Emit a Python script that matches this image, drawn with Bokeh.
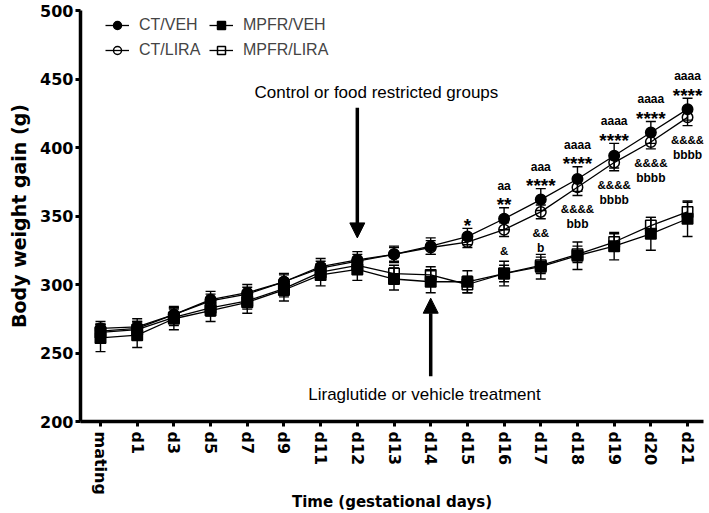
from bokeh.plotting import figure
from bokeh.models import (Range1d, FixedTicker, Whisker, TeeHead, Arrow, NormalHead,
                          Label, Legend, LegendItem, ColumnDataSource)
from bokeh.core.properties import value
from bokeh.embed import file_html
from bokeh.resources import INLINE

# ---------------- data ----------------
categories = ["mating", "d1", "d3", "d5", "d7", "d9", "d11", "d12", "d13", "d14",
              "d15", "d16", "d17", "d18", "d19", "d20", "d21"]

ct_veh = [268, 269, 278, 289, 294, 302, 313, 318, 322, 328, 335, 348, 362, 377, 394, 411, 428]
ct_veh_err = [5, 6, 6, 6, 6, 6, 6, 6, 6, 6, 6, 8, 8, 9, 9, 8, 8]

ct_lira = [266, 268, 278, 288, 293, 302, 312, 317, 322, 327, 331, 340, 353, 371, 389, 404, 422]
ct_lira_err = [5, 5, 5, 5, 5, 5, 5, 5, 5, 5, 4, 5, 5, 6, 6, 5, 6]

mpfr_veh = [261, 263, 275, 281, 287, 296, 307, 311, 304, 302, 302, 308, 313, 321, 328, 337, 348]
mpfr_veh_err = [10, 9, 8, 8, 8, 8, 8, 8, 8, 8, 8, 9, 9, 10, 10, 12, 13]

mpfr_lira = [265, 267, 276, 283, 288, 297, 309, 314, 308, 307, 300, 308, 314, 322, 331, 343, 353]
mpfr_lira_err = [6, 6, 6, 6, 6, 6, 6, 6, 6, 6, 6, 6, 6, 6, 6, 6, 7]

sig_days = ["d15", "d16", "d17", "d18", "d19", "d20", "d21"]
sig_stars = ["*", "**", "****", "****", "****", "****", "****"]
sig_a = ["", "aa", "aaa", "aaaa", "aaaa", "aaaa", "aaaa"]
sig_amp = ["", "&", "&&", "&&&&", "&&&&", "&&&&", "&&&&"]
sig_b = ["", "", "b", "bbb", "bbbb", "bbbb", "bbbb"]

y_ticks = [200, 250, 300, 350, 400, 450, 500]

x_title = "Time (gestational days)"
y_title = "Body weight gain (g)"

note_texts = ["Control or food restricted groups", "Liraglutide or vehicle treatment"]
note_days = ["d12", "d14"]
note_text_x = [7.52, 8.83]
note_text_y = [440, 220]
arrow_start_y = [429, 233]
arrow_end_y = [334, 290]

# ---------------- figure ----------------
xs = list(range(len(categories)))
FONT = "Liberation Sans"
AXFONT = "DejaVu Sans"

p = figure(width=709, height=513, output_backend="svg", toolbar_location=None,
           x_range=Range1d(-0.545, 16.435), y_range=Range1d(200, 500),
           min_border_left=80, min_border_right=6, min_border_top=10,
           min_border_bottom=0)
p.outline_line_color = None
p.xgrid.visible = False
p.ygrid.visible = False
p.background_fill_color = "white"

for ax in (p.xaxis[0], p.yaxis[0]):
    ax.axis_line_width = 3.5
    ax.axis_line_color = "black"
    ax.major_tick_line_width = 3
    ax.major_tick_line_color = "black"
    ax.major_tick_out = 5
    ax.major_tick_in = 0
    ax.minor_tick_line_color = None
    ax.major_label_text_font = AXFONT
    ax.major_label_text_font_style = "bold"
    ax.major_label_text_font_size = "16px"
    ax.major_label_text_color = "black"
    ax.axis_label_text_font = AXFONT
    ax.axis_label_text_font_style = "bold"
    ax.axis_label_text_color = "black"

p.xaxis.ticker = FixedTicker(ticks=xs)
p.xaxis.major_label_overrides = {i: c for i, c in enumerate(categories)}
p.xaxis.major_label_orientation = "vertical"
p.xaxis.major_label_standoff = 5
p.xaxis.axis_label = x_title
p.xaxis.axis_label_text_font_size = "15px"
p.xaxis.axis_label_standoff = -5

p.yaxis.ticker = FixedTicker(ticks=y_ticks)
p.yaxis.major_label_standoff = 2
p.yaxis.axis_label = y_title
p.yaxis.axis_label_text_font_size = "19px"
p.yaxis.axis_label_standoff = 7

series = [
    ("MPFR/LIRA", mpfr_lira, mpfr_lira_err, "square", None),
    ("CT/LIRA", ct_lira, ct_lira_err, "circle", None),
    ("MPFR/VEH", mpfr_veh, mpfr_veh_err, "square", "black"),
    ("CT/VEH", ct_veh, ct_veh_err, "circle", "black"),
]

renderers = {}
for name, vals, err, marker, fill in series:
    src = ColumnDataSource(dict(x=xs, y=vals,
                                upper=[v + e for v, e in zip(vals, err)],
                                lower=[v - e for v, e in zip(vals, err)]))
    lr = p.line("x", "y", source=src, line_color="black", line_width=1.3)
    w = Whisker(source=src, base="x", upper="upper", lower="lower", dimension="height",
                line_color="black", line_width=1.4, level="glyph",
                upper_head=TeeHead(size=10, line_width=1.4, line_color="black"),
                lower_head=TeeHead(size=10, line_width=1.4, line_color="black"))
    p.add_layout(w)
    renderers[name] = (lr, src, marker, fill)

marker_r = {}
for name, vals, err, marker, fill in series:
    lr, src, mk, fill = renderers[name]
    sr = p.scatter("x", "y", source=src, marker=mk, size=10.5,
                   line_color="black", line_width=1.5,
                   fill_color=fill if fill else None)
    marker_r[name] = sr

# significance annotations
sig_idx = [categories.index(d) for d in sig_days]
sig_src = ColumnDataSource(dict(
    x=sig_idx,
    top=[ct_veh[i] + ct_veh_err[i] for i in sig_idx],
    bot=[ct_lira[i] - ct_lira_err[i] for i in sig_idx],
    stars=sig_stars, a=sig_a, amp=sig_amp, b=sig_b))
common = dict(source=sig_src, text_font=value(FONT), text_font_style="bold",
              text_align="center", text_baseline="middle", text_color="black")
p.text(x="x", y="top", text="stars", text_font_size="19px", y_offset=-3, **common)
p.text(x="x", y="top", text="a", text_font_size="12px", y_offset=-22, **common)
p.text(x="x", y="bot", text="amp", text_font_size="11.5px", y_offset=14, **common)
p.text(x="x", y="bot", text="b", text_font_size="12px", y_offset=29, **common)

# arrows and notes
for t, d, tx, ty, ys, ye in zip(note_texts, note_days, note_text_x, note_text_y,
                                arrow_start_y, arrow_end_y):
    xi = categories.index(d)
    p.add_layout(Arrow(x_start=xi, y_start=ys, x_end=xi, y_end=ye,
                       line_width=3.5, line_color="black",
                       end=NormalHead(size=15, fill_color="black", line_color="black")))
    p.add_layout(Label(x=tx, y=ty, text=t, text_font=FONT, text_font_size="17px",
                       text_align="center", text_baseline="middle", text_color="black"))

# legends
def make_legend(names, loc):
    items = [LegendItem(label=n, renderers=[renderers[n][0], marker_r[n]]) for n in names]
    lg = Legend(items=items, location=loc, orientation="horizontal",
                label_text_font=FONT, label_text_font_size="16px",
                glyph_width=24, glyph_height=20, label_height=20, label_width=62,
                label_standoff=10, spacing=8, padding=0, margin=0,
                border_line_color=None, background_fill_alpha=0)
    p.add_layout(lg)

make_legend(["CT/VEH", "MPFR/VEH"], (25, 386))
make_legend(["CT/LIRA", "MPFR/LIRA"], (25, 361))

open("out.html", "w").write(file_html(p, INLINE))
